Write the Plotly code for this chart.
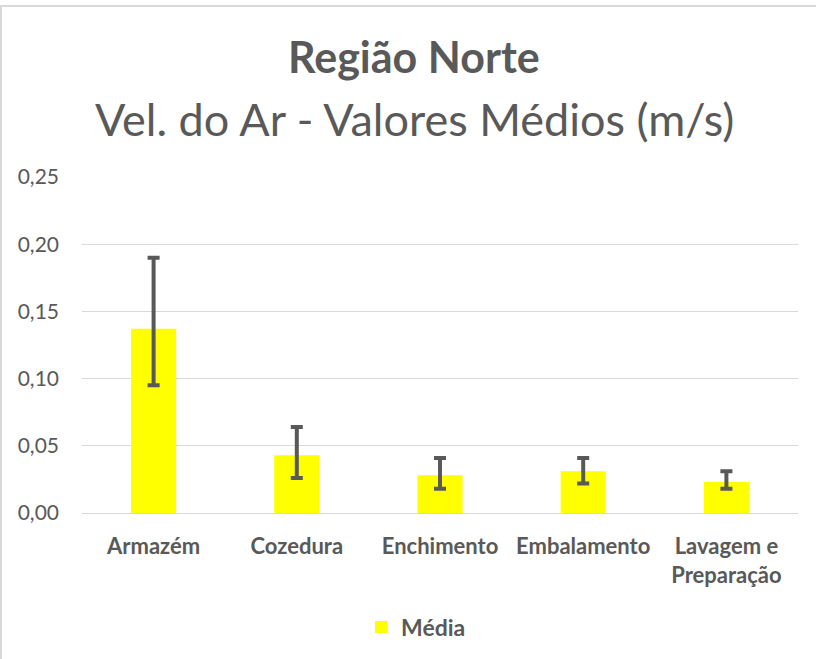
import plotly.graph_objects as go

categories = ["Armazém", "Cozedura", "Enchimento", "Embalamento", "Lavagem e<br>Preparação"]
media = [0.137, 0.043, 0.028, 0.031, 0.023]
err_plus = [0.053, 0.021, 0.013, 0.010, 0.008]
err_minus = [0.042, 0.017, 0.010, 0.009, 0.005]
y_ticks = [0.0, 0.05, 0.10, 0.15, 0.20, 0.25]

FONT = "Lato"
GREY = "#595959"

W, H = 816, 659
L, R, T, B = 82, 18, 177, 146
pw, ph = W - L - R, H - T - B

def px(x):
    return (x - L) / pw

def py(y):
    return (H - B - y) / ph

fig = go.Figure()
fig.add_trace(go.Bar(
    x=categories, y=media, name="Média",
    marker=dict(color="#FFFF00", line=dict(width=0)),
    width=0.315,
    error_y=dict(type="data", array=err_plus, arrayminus=err_minus, symmetric=False,
                 color=GREY, thickness=4, width=6),
))

fig.update_layout(
    width=W, height=H,
    margin=dict(l=L, r=R, t=T, b=B, pad=0, autoexpand=False),
    paper_bgcolor="white", plot_bgcolor="white",
    separators=",.",
    font=dict(family=FONT, color=GREY),
    showlegend=True,
    legend=dict(orientation="h", x=px(416), y=py(627), xanchor="center", yanchor="middle",
                font=dict(family=FONT, size=23, color=GREY, weight="bold"),
                itemwidth=30),
    xaxis=dict(showgrid=False, showline=False, zeroline=False, ticks="",
               tickfont=dict(family=FONT, size=22, color=GREY, weight="bold"),
               ticklabelstandoff=18),
    yaxis=dict(range=[0, 0.25], tickvals=y_ticks, tickformat=".2f",
               showgrid=True, gridcolor="#d9d9d9", gridwidth=1.3,
               zeroline=True, zerolinecolor="#d9d9d9", zerolinewidth=1.3,
               showline=False, ticks="",
               tickfont=dict(family=FONT, size=21, color=GREY),
               ticklabelstandoff=22),
    annotations=[
        dict(text="<b>Região Norte</b>", x=px(414), y=py(57), xref="paper", yref="paper",
             xanchor="center", yanchor="middle", showarrow=False,
             font=dict(family=FONT, size=43, color=GREY)),
        dict(text="Vel. do Ar - Valores Médios (m/s)", x=px(414), y=py(119), xref="paper", yref="paper",
             xanchor="center", yanchor="middle", showarrow=False,
             font=dict(family=FONT, size=45, color=GREY)),
    ],
    shapes=[
        dict(type="line", xref="paper", yref="paper", x0=px(0), x1=px(816), y0=py(6), y1=py(6),
             line=dict(color="#d9d9d9", width=2)),
        dict(type="line", xref="paper", yref="paper", x0=px(1), x1=px(1), y0=py(6), y1=py(659),
             line=dict(color="#d9d9d9", width=2)),
    ],
)

fig.write_html("out.html", config={"displayModeBar": False},
               post_script="document.body.style.margin='0';")
